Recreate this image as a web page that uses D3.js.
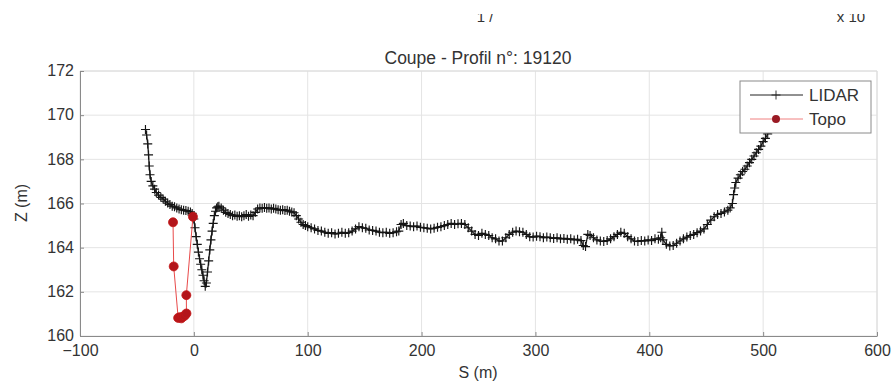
<!DOCTYPE html>
<html>
<head>
<meta charset="utf-8">
<script src="https://cdn.jsdelivr.net/npm/d3@7"></script>
<style>
  html, body { margin: 0; padding: 0; background: #fff; }
  svg { display: block; }
  text { font-family: "Liberation Sans", Arial, sans-serif; fill: #333; }
</style>
</head>
<body>
<svg id="chart" width="895" height="385"></svg>
<script>
// LIDAR cross-section: curvilinear abscissa S (m) and elevation Z (m)
const lidarS = [
  -42.5, -41.5, -40.5, -39.8, -39.2, -38.5, -37.5, -36, -34.5, -33, -31, -29, -27, -25, -23, -21, -19, -17, -15, -13,
  -11, -9, -7, -5, -3, -1.5, 0, 1, 2, 3, 4, 5, 6, 7, 8, 9, 10, 11, 12, 13,
  14, 15, 16, 17, 18, 19, 20, 21, 22, 24, 26, 28, 30, 32, 34, 36, 38, 40, 42, 44,
  46, 48, 50, 52, 54, 56, 58, 60, 62, 64, 66, 68, 70, 72, 74, 76, 78, 80, 82, 84,
  86, 88, 90, 92, 94, 96, 98, 100, 103, 106, 109, 112, 115, 118, 121, 124, 127, 130, 133, 136,
  139, 142, 145, 148, 151, 154, 157, 160, 163, 166, 169, 172, 175, 178, 180, 182, 184, 187, 190, 193,
  196, 199, 202, 205, 208, 211, 214, 217, 220, 223, 226, 229, 232, 235, 238, 241, 244, 247, 250, 253,
  256, 259, 262, 265, 268, 271, 274, 277, 280, 283, 286, 289, 292, 295, 298, 301, 304, 307, 310, 313,
  316, 319, 322, 325, 328, 331, 334, 337, 340, 342, 344, 346, 348, 351, 354, 357, 360, 363, 366, 369,
  372, 375, 378, 381, 384, 387, 390, 393, 396, 399, 402, 405, 408, 410, 411, 412, 415, 418, 421, 424,
  427, 430, 433, 436, 439, 442, 445, 448, 451, 454, 457, 460, 463, 466, 469, 471, 473, 474, 475, 476,
  478, 480, 482, 484, 486, 488, 490, 492, 494, 496, 498, 500, 502, 504, 506, 508, 510, 512
];
const lidarZ = [
  169.35, 169.1, 168.7, 168.2, 167.7, 167.3, 167.0, 166.8, 166.65, 166.5, 166.38, 166.28, 166.2, 166.1, 166.02, 165.95, 165.88, 165.85, 165.8, 165.75,
  165.72, 165.7, 165.68, 165.65, 165.62, 165.55, 165.3, 164.9, 164.5, 164.15, 163.8, 163.5, 163.25, 163.0, 162.75, 162.5, 162.25, 162.4, 162.9, 163.4,
  163.9, 164.35, 164.75, 165.1, 165.45, 165.65, 165.8, 165.85, 165.88, 165.8, 165.7, 165.6, 165.55, 165.5, 165.45, 165.48, 165.42, 165.45, 165.4, 165.45,
  165.5, 165.42, 165.48, 165.45, 165.6, 165.75, 165.8, 165.78, 165.82, 165.78, 165.8, 165.75, 165.78, 165.75, 165.72, 165.7, 165.72, 165.68, 165.7, 165.65,
  165.62, 165.58, 165.45, 165.3, 165.15, 165.05, 165.0, 164.95, 164.9, 164.85, 164.78, 164.75, 164.7, 164.65, 164.68, 164.62, 164.65, 164.7, 164.65, 164.68,
  164.75, 164.85, 164.95, 164.9, 164.88, 164.8, 164.78, 164.75, 164.7, 164.68, 164.7, 164.65, 164.68, 164.72, 164.75, 165.05, 165.1, 165.0, 164.98, 164.95,
  164.98, 164.92, 164.9, 164.88, 164.85, 164.88, 164.92, 164.95, 165.0, 165.05, 165.1, 165.05, 165.08, 165.1, 165.05, 164.9, 164.75, 164.6, 164.55, 164.65,
  164.6, 164.55, 164.45, 164.4, 164.3, 164.3, 164.45, 164.6, 164.7, 164.75, 164.72, 164.7, 164.6, 164.5, 164.48, 164.52, 164.5, 164.45, 164.48, 164.45,
  164.42, 164.45, 164.4, 164.42, 164.38, 164.4, 164.35, 164.38, 164.32, 164.1, 164.05, 164.6, 164.55, 164.45, 164.35, 164.3, 164.28, 164.32, 164.4, 164.5,
  164.6, 164.7, 164.65, 164.5, 164.4, 164.3, 164.28, 164.32, 164.3, 164.35, 164.32, 164.4, 164.38, 164.45, 164.7, 164.35, 164.15, 164.08, 164.1, 164.2,
  164.3, 164.4, 164.48, 164.55, 164.6, 164.68, 164.75, 164.85, 165.05, 165.25, 165.4, 165.5, 165.55, 165.62, 165.7, 165.8, 166.0, 166.4, 166.7, 166.95,
  167.15, 167.3, 167.45, 167.55, 167.7, 167.85, 168.0, 168.15, 168.3, 168.45, 168.6, 168.8, 168.95, 169.15, 169.35, 169.55, 169.8, 170.05
];

// Ground survey (topo) points across the channel
const topoS = [-18.3, -17.7, -13.8, -12.5, -11, -9.5, -8, -6.5, -6.6, -0.8];
const topoZ = [165.15, 163.15, 160.82, 160.85, 160.8, 160.88, 160.92, 161.02, 161.85, 165.4];

const xTicks = [-100, 0, 100, 200, 300, 400, 500, 600];
const yTicks = [160, 162, 164, 166, 168, 170, 172];
const legendLabels = ["LIDAR", "Topo"];

const svg = d3.select("#chart");
const margin = { left: 80, right: 18, top: 71, bottom: 49 };
const W = 895, H = 385;
const x = d3.scaleLinear().domain([-100, 600]).range([margin.left, W - margin.right]);
const y = d3.scaleLinear().domain([160, 172]).range([H - margin.bottom, margin.top]);

const axisColor = "#8a8a8a";
const gridColor = "#e4e4e4";
const plusPath = "M-4.5,0H4.5M0,-4.5V4.5";

// grid
const grid = svg.append("g");
grid.selectAll("line.gx").data(xTicks).join("line")
  .attr("x1", d => x(d)).attr("x2", d => x(d))
  .attr("y1", y(160)).attr("y2", y(172))
  .attr("stroke", gridColor).attr("stroke-width", 1);
grid.selectAll("line.gy").data(yTicks).join("line")
  .attr("x1", x(-100)).attr("x2", x(600))
  .attr("y1", d => y(d)).attr("y2", d => y(d))
  .attr("stroke", gridColor).attr("stroke-width", 1);

// top / right box edges
svg.append("line").attr("x1", x(-100)).attr("x2", x(600)).attr("y1", y(172)).attr("y2", y(172))
  .attr("stroke", "#dcdcdc");
svg.append("line").attr("x1", x(600)).attr("x2", x(600)).attr("y1", y(172)).attr("y2", y(160))
  .attr("stroke", "#dcdcdc");

// axes
const xAxis = svg.append("g")
  .attr("transform", `translate(0,${y(160)})`)
  .call(d3.axisBottom(x).tickValues(xTicks).tickSizeInner(-4).tickSizeOuter(0).tickPadding(5).tickFormat(d3.format("d")));
const yAxis = svg.append("g")
  .attr("transform", `translate(${x(-100)},0)`)
  .call(d3.axisLeft(y).tickValues(yTicks).tickSizeInner(-4).tickSizeOuter(0).tickPadding(6).tickFormat(d3.format("d")));
[xAxis, yAxis].forEach(g => {
  g.select(".domain").attr("stroke", axisColor);
  g.selectAll(".tick line").attr("stroke", axisColor);
  g.selectAll(".tick text").attr("fill", "#333").style("font-size", "16px")
    .style("font-family", "'Liberation Sans', Arial, sans-serif");
});
xAxis.selectAll(".tick text").attr("dy", "0.95em");
yAxis.selectAll(".tick text").attr("dy", "0.3em");

// LIDAR line with + markers
const lidar = lidarS.map((s, i) => [s, lidarZ[i]]);
const line = d3.line().x(d => x(d[0])).y(d => y(d[1]));
svg.append("path").datum(lidar).attr("d", line)
  .attr("fill", "none").attr("stroke", "#1a1a1a").attr("stroke-width", 1.3);
svg.append("g").selectAll("path").data(lidar).join("path")
  .attr("transform", d => `translate(${x(d[0])},${y(d[1])})`)
  .attr("d", plusPath)
  .attr("stroke", "#151515").attr("stroke-width", 1.15).attr("fill", "none");

// Topo line with filled dots
const topo = topoS.map((s, i) => [s, topoZ[i]]);
svg.append("path").datum(topo).attr("d", line)
  .attr("fill", "none").attr("stroke", "#e84a4a").attr("stroke-width", 1);
svg.append("g").selectAll("circle").data(topo).join("circle")
  .attr("cx", d => x(d[0])).attr("cy", d => y(d[1])).attr("r", 4.5)
  .attr("fill", "#b3151b").attr("stroke", "#c41616").attr("stroke-width", 0.8);

// legend
const lg = svg.append("g");
lg.append("rect").attr("x", 740).attr("y", 81).attr("width", 131).attr("height", 52)
  .attr("fill", "#fff").attr("stroke", "#8a8a8a").attr("stroke-width", 1);
const rows = [{ yy: 95 }, { yy: 119 }];
lg.append("line").attr("x1", 750).attr("x2", 803).attr("y1", rows[0].yy).attr("y2", rows[0].yy)
  .attr("stroke", "#222").attr("stroke-width", 1);
lg.append("path").attr("transform", `translate(776,${rows[0].yy})`).attr("d", plusPath)
  .attr("stroke", "#222").attr("stroke-width", 0.9);
lg.append("line").attr("x1", 750).attr("x2", 803).attr("y1", rows[1].yy).attr("y2", rows[1].yy)
  .attr("stroke", "#f08080").attr("stroke-width", 1);
lg.append("circle").attr("cx", 776).attr("cy", rows[1].yy).attr("r", 4)
  .attr("fill", "#9a1a24");
lg.selectAll("text").data(legendLabels).join("text")
  .attr("x", 809).attr("y", (d, i) => rows[i].yy).attr("dy", "0.35em")
  .style("font-size", "17px").text(d => d);

// titles
svg.append("text").attr("x", 478).attr("y", 64).attr("text-anchor", "middle")
  .style("font-size", "17.5px").text("Coupe - Profil n°: 19120");
svg.append("text").attr("x", 478).attr("y", 378).attr("text-anchor", "middle")
  .style("font-size", "16px").text("S (m)");
svg.append("text").attr("transform", "translate(27,203) rotate(-90)").attr("text-anchor", "middle")
  .style("font-size", "16px").text("Z (m)");

// partly hidden header labels
svg.append("text").attr("x", 485).attr("y", 22).attr("text-anchor", "middle")
  .style("font-size", "15px").attr("fill", "#777").text("1 /");
svg.append("text").attr("x", 851).attr("y", 22).attr("text-anchor", "middle")
  .style("font-size", "15px").attr("fill", "#777").text("x 10");
svg.append("rect").attr("x", 0).attr("y", 0).attr("width", W).attr("height", 14).attr("fill", "#fff");
</script>
</body>
</html>
